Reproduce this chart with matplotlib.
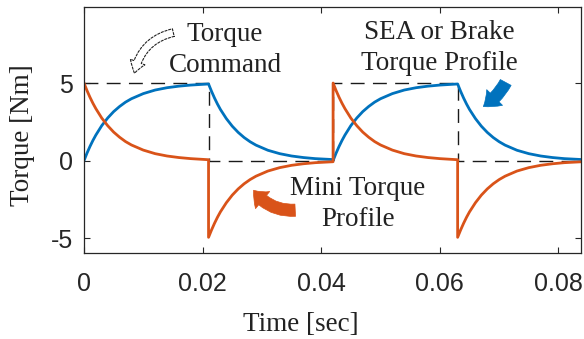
import matplotlib
matplotlib.use("Agg")
import matplotlib.pyplot as plt
from matplotlib.patches import FancyArrowPatch

plt.rcParams["axes.unicode_minus"] = False

# one half period of the square-wave torque command (sec)
half = 0.021
starts = [0.0, 0.021, 0.042, 0.063]
command = [5, 0, 5, 0]

# time offsets inside a half period and SEA torque
dt = [0, 0.0005, 0.001, 0.0015, 0.002, 0.003, 0.004, 0.005, 0.006, 0.007,
      0.008, 0.010, 0.012, 0.014, 0.016, 0.018, 0.021]
sea_rise = [0, 0.48, 0.91, 1.30, 1.65, 2.26, 2.75, 3.16, 3.49, 3.77,
            3.99, 4.32, 4.55, 4.70, 4.80, 4.87, 4.94]
sea_fall = [4.94, 4.47, 4.04, 3.65, 3.30, 2.71, 2.22, 1.82, 1.49, 1.22,
            1.00, 0.67, 0.45, 0.30, 0.20, 0.13, 0.07]

xticks = [0, 0.02, 0.04, 0.06, 0.08]
xticklabels = ["0", "0.02", "0.04", "0.06", "0.08"]
yticks = [-5, 0, 5]

blue = "#0072BD"
orange = "#D95319"

t, sea, mini = [], [], []
for s, c in zip(starts, command):
    seg = sea_rise if c == 5 else sea_fall
    for d, v in zip(dt, seg):
        t.append(s + d)
        sea.append(v)
        mini.append(c - v)

cmd_t, cmd_y = [], []
for s, c in zip(starts, command):
    cmd_t += [s, s + half]
    cmd_y += [c, c]
cmd_t[-1] = 0.09

W, H = 584, 339
fig = plt.figure(figsize=(W / 100, H / 100), dpi=100)
ax = fig.add_axes([84 / W, (H - 253) / H, (581 - 84) / W, (253 - 7) / H])

ax.plot(cmd_t, cmd_y, color="#1a1a1a", lw=1.0, dashes=(10, 6))
ax.plot(t, sea, color=blue, lw=2.0)
ax.plot(t, mini, color=orange, lw=2.0)

ax.set_xlim(0, 0.0838)
ax.set_ylim(-5.95, 9.9)
ax.set_xticks(xticks)
ax.set_xticklabels(xticklabels)
ax.set_yticks(yticks)
ax.tick_params(direction="in", top=True, right=True, length=4, width=0.8,
               colors="#262626", labelsize=18, labelcolor="#262626")
ax.tick_params(axis="x", pad=14)
ax.tick_params(axis="y", pad=8)
for lab in ax.get_xticklabels() + ax.get_yticklabels():
    lab.set_family("Liberation Sans")
for sp in ax.spines.values():
    sp.set_color("#262626")
    sp.set_linewidth(0.9)

serif = "Liberation Serif"
fs = 19.5
ax.set_ylabel("Torque [Nm]", family=serif, fontsize=fs, color="#222222")
ax.yaxis.set_label_coords(-0.098, 0.48)
ax.set_xlabel("Time [sec]", family=serif, fontsize=fs, color="#222222")
ax.xaxis.set_label_coords(0.437, -0.24)


def fx(px, py):
    return (px / W, 1 - py / H)


fig.text(*fx(225, 50), "Torque\nCommand", family=serif, fontsize=fs,
         ha="center", va="center", color="#222222", linespacing=1.3)
fig.text(*fx(439, 48), "SEA or Brake\nTorque Profile", family=serif,
         fontsize=fs, ha="center", va="center", color="#222222", linespacing=1.3)
fig.text(*fx(358, 204), "Mini Torque\nProfile", family=serif, fontsize=fs,
         ha="center", va="center", color="#222222", linespacing=1.3)

a1 = FancyArrowPatch(fx(176, 32), fx(134, 76), transform=fig.transFigure,
                     connectionstyle="arc3,rad=0.35",
                     arrowstyle="simple,head_length=0.6,head_width=0.8,tail_width=0.4",
                     mutation_scale=14, facecolor="none", edgecolor="#222222",
                     linestyle=(0, (2, 1.5)), lw=0.8)
fig.add_artist(a1)
a2 = FancyArrowPatch(fx(507, 80), fx(481, 108), transform=fig.transFigure,
                     connectionstyle="arc3,rad=-0.15",
                     arrowstyle="simple,head_length=0.65,head_width=1.0,tail_width=0.55",
                     mutation_scale=16, facecolor=blue, edgecolor=blue, lw=0.5)
fig.add_artist(a2)
a3 = FancyArrowPatch(fx(298, 210), fx(252, 188), transform=fig.transFigure,
                     connectionstyle="arc3,rad=-0.3",
                     arrowstyle="simple,head_length=0.6,head_width=1.0,tail_width=0.55",
                     mutation_scale=16, facecolor=orange, edgecolor=orange, lw=0.5)
fig.add_artist(a3)

fig.savefig("out.png", dpi=100)
